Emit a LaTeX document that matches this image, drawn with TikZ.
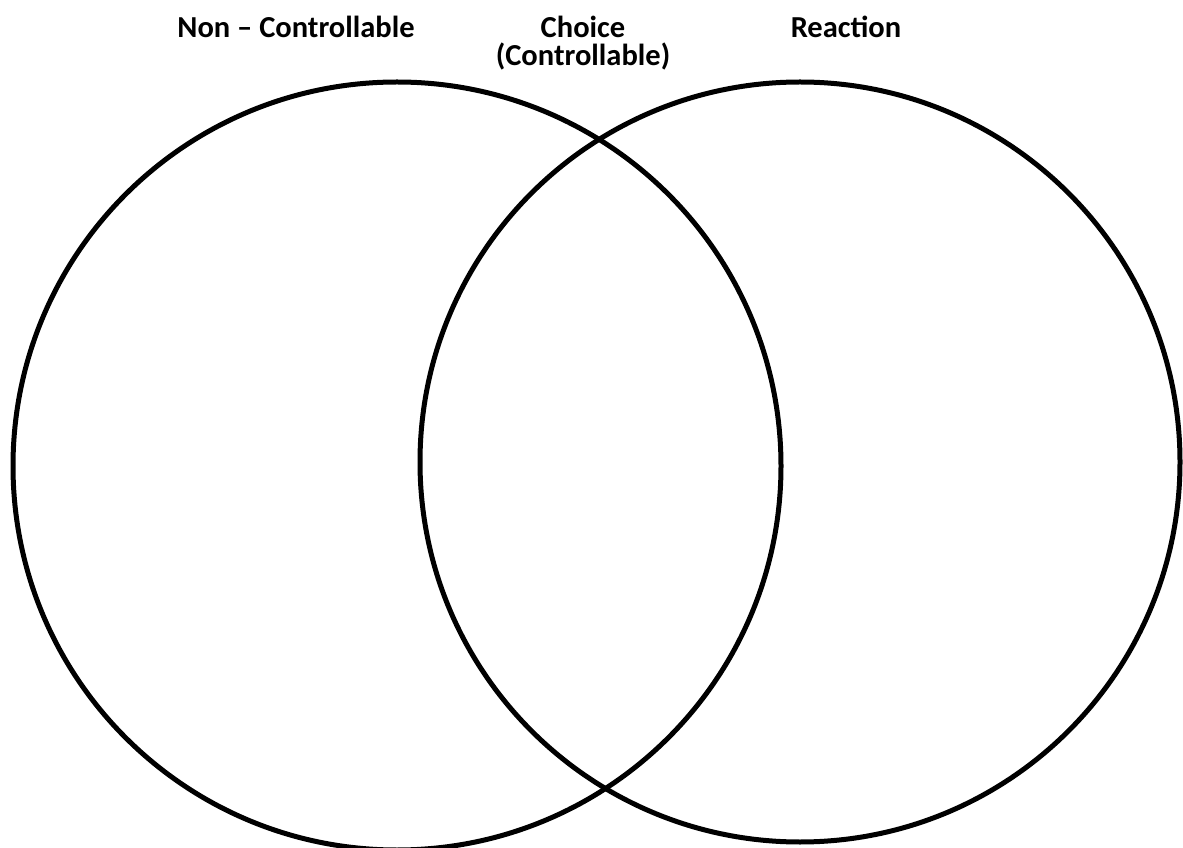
\documentclass[tikz,border=0pt]{standalone}
\usepackage{fontspec}
\setmainfont{Carlito}
\begin{document}
\begin{tikzpicture}[x=1pt,y=1pt,
  ring/.style={draw=black,line width=5pt,circle,minimum size=#1,inner sep=0pt},
  lbl/.style={font=\bfseries\fontsize{30.5}{34}\selectfont,anchor=base,inner sep=0pt}]
\useasboundingbox (0,0) rectangle (1183,847);
\node[ring=768pt] (left) at (397,381) {};
\node[ring=760pt] (right) at (800,385) {};
\node[lbl] (nc) at (296,809) {Non -- Controllable};
\node[lbl] (ch) at (583,809) {Choice};
\node[lbl] (chc) at (583,781) {(Controllable)};
\node[lbl] (re) at (846,809) {Reaction};
\end{tikzpicture}
\end{document}
